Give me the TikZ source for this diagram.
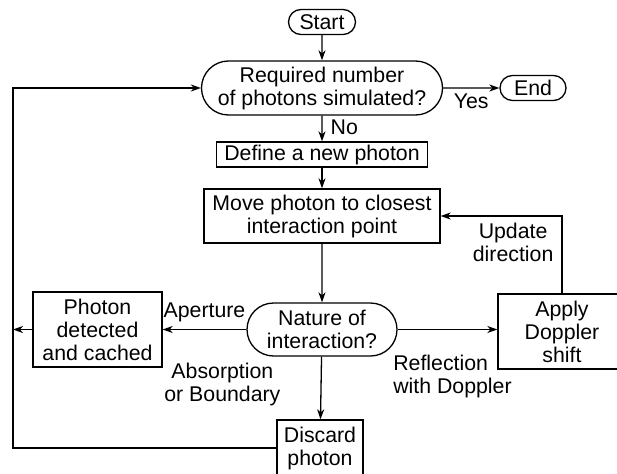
\documentclass[tikz,border=0pt]{standalone}
\usepackage{fontspec}
\setmainfont{Liberation Sans}
\usetikzlibrary{arrows.meta,shapes.misc}

\begin{document}
\begin{tikzpicture}[x=1pt,y=-1pt,line width=1.3pt,
	every node/.style={font=\fontsize{21.3}{23}\selectfont,align=center},
	pill/.style={draw,rounded rectangle,inner sep=0pt},
	box/.style={draw,rectangle,inner sep=0pt},
	lbl/.style={inner sep=3pt},
	arr/.style={-{Stealth[length=10pt,width=7pt,inset=3pt]}}]
	\useasboundingbox (0,0) rectangle (617,473);
	\node[pill,minimum width=67pt,minimum height=25pt] (start) at (322,22) {Start};
	\node[pill,minimum width=241pt,minimum height=54pt] (req) at (322,88) {Required number\\of photons simulated?};
	\node[pill,minimum width=66pt,minimum height=25pt] (end) at (533,88) {End};
	\node[box,minimum width=211pt,minimum height=25pt] (def) at (322,154.5) {Define a new photon};
	\node[box,minimum width=236pt,minimum height=54pt] (move) at (322,216) {Move photon to closest\\interaction point};
	\node[pill,minimum width=150pt,minimum height=53pt] (nature) at (322,329.5) {Nature of\\interaction?};
	\node[box,minimum width=129pt,minimum height=75pt] (det) at (97.5,329.5) {Photon\\detected\\and cached};
	\node[box,minimum width=128pt,minimum height=75pt] (dop) at (562,331.5) {Apply\\Doppler\\shift};
	\node[box,minimum width=86pt,minimum height=56pt] (disc) at (320,448) {Discard\\photon};
	\coordinate (corner) at (13,446);
	\draw[arr] (start) -- (req);
	\draw[arr] (req) -- node[lbl,below=2pt] (yes) {Yes} (end);
	\draw[arr] (req) -- node[lbl,right=5pt,pos=0.45] (no) {No} (def);
	\draw[arr] (def) -- (move);
	\draw[arr] (move) -- (nature);
	\draw[arr] (nature) -- node[lbl,above=3.5pt] (ap) {Aperture} (det);
	\draw[arr] (nature.east) -- (nature.east -| dop.west);
	\draw[arr] (nature) -- node[lbl,left=37pt,pos=0.45] (abs) {Absorption\\or Boundary} (disc);
	\node[lbl,align=left,anchor=north west,xshift=-8pt,yshift=-22pt] (refl) at (nature.east) {Reflection\\with Doppler};
	\draw[arr] (dop.north) |- node[lbl,left=5pt,pos=0.33] (upd) {Update\\direction} (move.east);
	\draw[arr] (det.west) -- (det.west -| corner);
	\draw[arr] (disc.west) -- (disc.west -| corner) |- (req.west);
\end{tikzpicture}
\end{document}
